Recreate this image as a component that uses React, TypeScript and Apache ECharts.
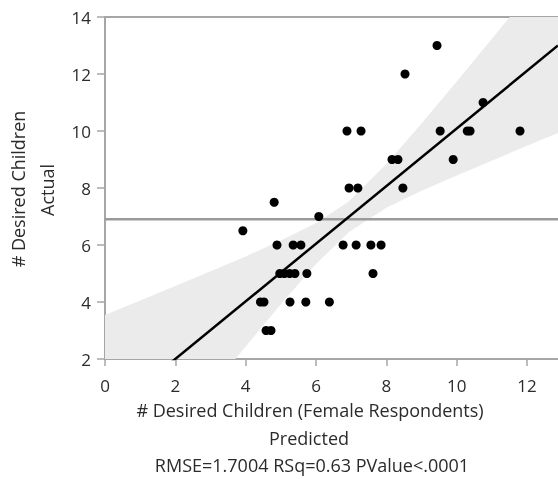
import React, { useEffect, useRef } from "react";
import * as echarts from "echarts";

// Observed points: [predicted, actual]
const points: number[][] = [
  [3.92, 6.5], [4.81, 7.5], [6.08, 7.0],
  [4.89, 6], [5.35, 6], [5.57, 6], [6.77, 6], [7.14, 6], [7.56, 6], [7.85, 6],
  [4.97, 5], [5.1, 5], [5.25, 5], [5.4, 5], [5.74, 5], [7.62, 5],
  [4.42, 4], [4.52, 4], [5.26, 4], [5.71, 4], [6.38, 4],
  [4.58, 3], [4.72, 3],
  [6.94, 8], [7.19, 8], [8.47, 8],
  [8.16, 9], [8.33, 9], [9.9, 9],
  [6.88, 10], [7.28, 10], [9.53, 10], [10.3, 10], [10.38, 10], [11.8, 10],
  [10.75, 11], [8.53, 12], [9.44, 13],
];

// Fit line end points and mean of actual
const fitLine: number[][] = [[0, -0.02], [12.88, 13.0]];
const meanActual = 6.9;

// Confidence band
const bandX = [0, 1, 2, 3, 4, 5, 6, 6.93, 8, 9, 10, 11, 12, 12.88];
const bandUpper = [3.54, 4.05, 4.56, 5.08, 5.6, 6.16, 6.77, 7.53, 8.84, 10.26, 11.74, 13.24, 14.74, 16.07];
const bandLower = [-3.58, -2.07, -0.56, 0.94, 2.44, 3.92, 5.33, 6.45, 7.31, 7.9, 8.44, 8.96, 9.48, 9.93];

const xTicks = [0, 2, 4, 6, 8, 10, 12];
const xMax = 12.88;
const yTicks = [2, 4, 6, 8, 10, 12, 14];

const xTitle = "# Desired Children (Female Respondents)";
const xSub = "Predicted";
const stats = "RMSE=1.7004 RSq=0.63 PValue<.0001";
const yTitle1 = "# Desired Children";
const yTitle2 = "Actual";

const FONT = "'Open Sans', 'Noto Sans', sans-serif";
const AXIS = "#a6a6a6";
const TXT = "#2b2b2b";

export default function App() {
  const ref = useRef<HTMLDivElement>(null);
  useEffect(() => {
    if (!ref.current) return;
    const chart = echarts.init(ref.current, undefined, { renderer: "svg" });
    chart.setOption({
      animation: false,
      grid: { left: 105, top: 17, right: 0, bottom: 120, containLabel: false },
      xAxis: [
        {
          type: "value",
          min: 0,
          max: xMax,
          interval: 2,
          splitLine: { show: false },
          axisLine: { onZero: false, lineStyle: { color: AXIS, width: 2 } },
          axisTick: { show: true, length: 7, lineStyle: { color: AXIS, width: 1.5 }, customValues: xTicks },
          axisLabel: { customValues: xTicks, color: TXT, fontSize: 17, fontFamily: FONT, margin: 18 },
        },
        {
          type: "value",
          position: "top",
          min: 0,
          max: xMax,
          splitLine: { show: false },
          axisLine: { show: true, lineStyle: { color: AXIS, width: 2 } },
          axisTick: { show: false },
          axisLabel: { show: false },
        },
      ],
      yAxis: {
        type: "value",
        min: 2,
        max: 14,
        interval: 2,
        splitLine: { show: false },
        axisLine: { show: true, onZero: false, lineStyle: { color: AXIS, width: 2 } },
        axisTick: { show: true, length: 8, lineStyle: { color: AXIS, width: 1.5 }, customValues: yTicks },
        axisLabel: { customValues: yTicks, color: TXT, fontSize: 17, fontFamily: FONT, margin: 14 },
      },
      series: [
        {
          type: "custom",
          clip: true,
          silent: true,
          data: [0],
          renderItem: (_params: any, api: any) => {
            const pts: number[][] = [];
            for (let i = 0; i < bandX.length; i++) pts.push(api.coord([bandX[i], bandUpper[i]]));
            for (let i = bandX.length - 1; i >= 0; i--) pts.push(api.coord([bandX[i], bandLower[i]]));
            return { type: "polygon", shape: { points: pts }, style: { fill: "#ebebeb" } };
          },
          z: 1,
        },
        {
          type: "line",
          data: [[0, meanActual], [xMax, meanActual]],
          symbol: "none",
          lineStyle: { color: "#9a9a9a", width: 2.5 },
          z: 2,
        },
        {
          type: "line",
          data: fitLine,
          symbol: "none",
          clip: true,
          lineStyle: { color: "#000", width: 2.5 },
          z: 3,
        },
        {
          type: "scatter",
          data: points,
          symbolSize: 9,
          itemStyle: { color: "#000", opacity: 1 },
          z: 4,
        },
      ],
      graphic: [
        { type: "text", x: 310, y: 410, style: { text: xTitle, fill: TXT, font: `18px ${FONT}`, align: "center", verticalAlign: "middle" } },
        { type: "text", x: 309, y: 438, style: { text: xSub, fill: TXT, font: `18px ${FONT}`, align: "center", verticalAlign: "middle" } },
        { type: "text", x: 312, y: 465, style: { text: stats, fill: TXT, font: `18px ${FONT}`, align: "center", verticalAlign: "middle" } },
        { type: "text", x: 18, y: 189, rotation: Math.PI / 2, style: { text: yTitle1, fill: TXT, font: `18px ${FONT}`, align: "center", verticalAlign: "middle" } },
        { type: "text", x: 47, y: 190, rotation: Math.PI / 2, style: { text: yTitle2, fill: TXT, font: `18px ${FONT}`, align: "center", verticalAlign: "middle" } },
      ],
    });
    return () => chart.dispose();
  }, []);
  return <div ref={ref} style={{ position: "fixed", left: 0, top: 0, width: 558, height: 479 }} />;
}
